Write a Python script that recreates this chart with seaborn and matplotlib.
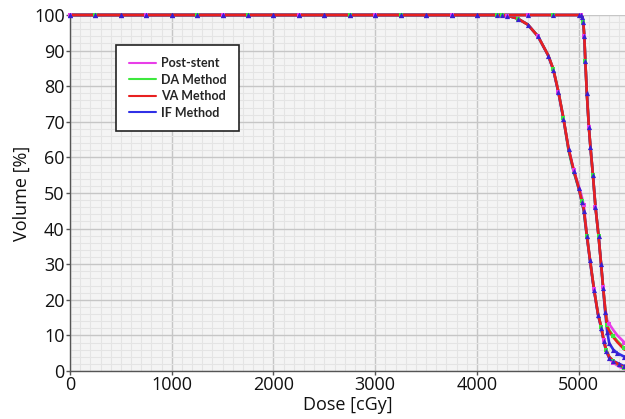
import numpy as np
import pandas as pd
import matplotlib
matplotlib.use("Agg")
import matplotlib.pyplot as plt
from matplotlib.lines import Line2D
import seaborn as sns

# ---------------- data ----------------
methods = ["Post-stent", "DA Method", "VA Method", "IF Method"]
colors = {"Post-stent": "#e83ee8", "DA Method": "#3ee83e",
          "VA Method": "#e82020", "IF Method": "#3030e6"}

# structure 1 (gradual fall-off)
dose_a = [0, 250, 500, 750, 1000, 1250, 1500, 1750, 2000, 2250, 2500, 2750,
          3000, 3250, 3500, 3750, 4000, 4200, 4300, 4400, 4500, 4600, 4700,
          4750, 4800, 4850, 4900, 4950, 5000, 5030, 5050, 5080, 5110, 5150,
          5190, 5220, 5245, 5270, 5300, 5340, 5400, 5450]
plateau_a = [100] * 17
post_a = plateau_a + [100, 99.8, 99.0, 97.3, 94.0, 88.7, 84.8, 78.5, 71.0, 62.5,
                      56.5, 52.0, 49.0, 46.5, 38.5, 31.5, 23.0, 16.0, 12.5, 8.8,
                      5.8, 3.6, 2.3, 1.2, 0.5]
da_a = plateau_a + [100, 99.8, 99.0, 97.3, 94.0, 88.7, 84.8, 78.5, 71.0, 62.0,
                    56.0, 51.3, 47.8, 45.0, 38.0, 31.5, 23.0, 16.0, 12.5, 8.8,
                    5.9, 4.0, 2.7, 1.6, 0.8]
va_a = plateau_a + [100, 99.8, 99.0, 97.3, 94.0, 88.7, 84.8, 78.5, 71.0, 62.5,
                    56.5, 51.5, 47.8, 45.5, 38.0, 31.5, 23.0, 16.0, 12.5, 8.8,
                    5.9, 4.0, 2.8, 1.7, 0.9]
if_a = plateau_a + [100, 99.8, 99.0, 97.3, 94.0, 88.6, 84.6, 78.3, 70.8, 62.3,
                    56.3, 51.3, 47.6, 45.0, 37.8, 31.2, 22.8, 15.8, 12.2, 8.5,
                    5.5, 3.7, 2.8, 2.0, 1.3]

# structure 2 (steep fall-off)
dose_b = [0, 250, 500, 750, 1000, 1250, 1500, 1750, 2000, 2250, 2500, 2750,
          3000, 3250, 3500, 3750, 4000, 4250, 4500, 4750, 5000, 5020, 5035,
          5045, 5055, 5065, 5080, 5100, 5115, 5140, 5165, 5195, 5220, 5240,
          5260, 5280, 5300, 5340, 5380, 5450]
plateau_b = [100] * 21
post_b = plateau_b + [100, 99.5, 98.0, 94.0, 87.0, 78.0, 68.5, 63.0, 55.0, 46.0,
                      38.0, 30.0, 23.5, 17.8, 14.3, 13.2, 11.5, 10.0, 8.0]
da_b = plateau_b + [100, 99.5, 98.0, 94.0, 87.0, 78.0, 68.5, 63.0, 55.0, 46.0,
                    38.0, 30.0, 23.5, 17.5, 12.8, 11.5, 9.8, 8.4, 6.4]
va_b = plateau_b + [100, 99.5, 98.0, 94.0, 87.0, 78.0, 68.5, 63.0, 55.0, 46.0,
                    38.0, 30.0, 23.5, 17.5, 12.5, 11.2, 9.5, 8.1, 6.0]
if_b = plateau_b + [100, 99.5, 98.0, 94.0, 87.0, 78.0, 68.5, 63.0, 55.0, 46.0,
                    38.0, 30.0, 23.3, 16.5, 11.0, 7.8, 6.0, 5.0, 4.0]

x_ticks = [0, 1000, 2000, 3000, 4000, 5000]
y_ticks = [0, 10, 20, 30, 40, 50, 60, 70, 80, 90, 100]

series_a = {"Post-stent": post_a, "DA Method": da_a, "VA Method": va_a, "IF Method": if_a}
series_b = {"Post-stent": post_b, "DA Method": da_b, "VA Method": va_b, "IF Method": if_b}

rows = []
for struct, dose, ser in (("A", dose_a, series_a), ("B", dose_b, series_b)):
    for m in methods:
        for d, v in zip(dose, ser[m]):
            rows.append({"structure": struct, "method": m, "dose": d, "volume": v})
df = pd.DataFrame(rows)

# ---------------- style ----------------
sns.set_theme(style="white")
plt.rcParams["font.family"] = ["Open Sans", "DejaVu Sans"]

fig = plt.figure(figsize=(6.25, 4.19), dpi=100)
ax = fig.add_axes([70 / 625, 1 - 371 / 419, 555 / 625, 356 / 419])
ax.set_facecolor("#f4f4f4")

draw_order = ["Post-stent", "DA Method", "IF Method", "VA Method"]
for struct in ("A", "B"):
    for m in draw_order:
        sub = df[(df.structure == struct) & (df.method == m)]
        sns.lineplot(data=sub, x="dose", y="volume", color=colors[m], lw=1.9,
                     estimator=None, sort=True, ax=ax, clip_on=False, zorder=3)

# marker flecks
for struct in ("A", "B"):
    sub = df[(df.structure == struct) & (df.method == "DA Method")]
    sns.scatterplot(data=sub.iloc[1::2], x="dose", y="volume", color="#3ee83e",
                    marker="s", s=6, linewidth=0, ax=ax, clip_on=False, zorder=4)
    sub = df[(df.structure == struct) & (df.method == "Post-stent")]
    sns.scatterplot(data=sub.iloc[::3], x="dose", y="volume", color="#e83ee8",
                    marker="s", s=6, linewidth=0, ax=ax, clip_on=False, zorder=4)
    sub = df[(df.structure == struct) & (df.method == "IF Method")]
    sns.scatterplot(data=sub, x="dose", y="volume", color="#3a1fd0",
                    marker="^", s=14, linewidth=0, ax=ax, clip_on=False, zorder=5)

ax.set_xlim(0, 5455)
ax.set_ylim(0, 100)
ax.set_xticks(x_ticks)
ax.set_yticks(y_ticks)
ax.set_xticks(np.arange(0, 5456, 100), minor=True)
ax.set_yticks(np.arange(0, 101, 2), minor=True)
ax.grid(which="major", color="#c6c6c6", lw=1.0, zorder=0)
ax.grid(which="minor", color="#e4e4e4", lw=0.8, zorder=0)
ax.set_axisbelow(True)

for s in ("top", "right"):
    ax.spines[s].set_visible(False)
for s in ("left", "bottom"):
    ax.spines[s].set_color("#555555")
    ax.spines[s].set_linewidth(1.0)

ax.tick_params(which="major", direction="out", length=3, width=1, color="#555555",
               labelsize=13, pad=0.8, labelcolor="#111111", left=True, bottom=True)
ax.tick_params(which="minor", length=0)

ax.set_xlabel("Dose [cGy]", fontsize=13, labelpad=1, color="#111111")
ax.set_ylabel("Volume [%]", fontsize=13, labelpad=2, color="#111111")

handles = [Line2D([0], [0], color=colors[m], lw=1.5) for m in methods]
leg = ax.legend(handles, methods, loc="upper left", bbox_to_anchor=(0.083, 0.916),
                borderaxespad=0, frameon=True, fancybox=False, edgecolor="#222222",
                framealpha=1, handlelength=2.2, handletextpad=0.4, borderpad=1.0,
                labelspacing=0.35,
                prop={"family": ["Liberation Sans Narrow", "Lato", "DejaVu Sans"],
                      "weight": "bold", "size": 9})
leg.get_frame().set_linewidth(1.2)
leg.set_zorder(10)

fig.savefig("out.png", dpi=100)
